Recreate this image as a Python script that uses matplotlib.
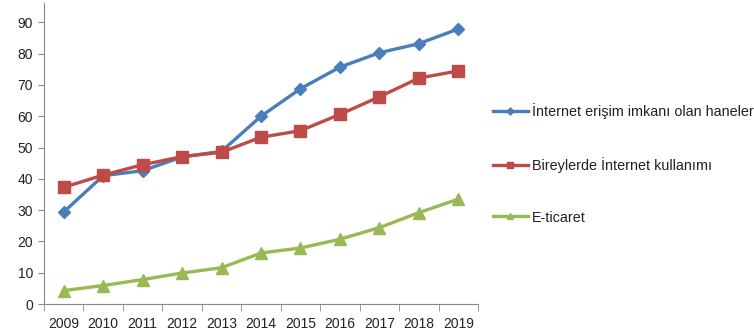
import numpy as np
import matplotlib.pyplot as plt

years = ["2009", "2010", "2011", "2012", "2013", "2014", "2015", "2016", "2017", "2018", "2019"]
hane = [29.4, 41.0, 42.6, 47.0, 48.8, 60.0, 68.8, 75.7, 80.3, 83.2, 87.9]
birey = [37.3, 41.2, 44.5, 47.1, 48.5, 53.3, 55.4, 60.6, 66.2, 72.2, 74.5]
eticaret = [4.3, 5.9, 7.8, 9.9, 11.6, 16.3, 17.9, 20.7, 24.4, 29.2, 33.5]
labels = ["İnternet erişim imkanı olan haneler",
          "Bireylerde İnternet kullanımı",
          "E-ticaret"]

plt.rcParams['font.family'] = ['Liberation Sans', 'DejaVu Sans']

fig = plt.figure(figsize=(7.54, 3.35), dpi=100)
ax = fig.add_axes([44/754, 1 - 304/335, (478 - 44)/754, 301/335])

x = np.arange(len(years))
ax.plot(x, hane, color='#4A7EBB', lw=2.4, marker='D', ms=6.5, label=labels[0])
ax.plot(x, birey, color='#BE4B48', lw=2.4, marker='s', ms=8, label=labels[1])
ax.plot(x, eticaret, color='#98B954', lw=2.4, marker='^', ms=8, label=labels[2])

ax.set_xlim(-0.5, len(years) - 0.5)
ax.set_ylim(0, 96.2)
ax.set_yticks(range(0, 100, 10))
ax.set_xticks(x)
ax.set_xticklabels(years)
ax.set_xticks(np.arange(-0.5, len(years), 1), minor=True)
ax.tick_params(axis='x', which='major', length=0, labelsize=10, pad=9, labelcolor='#222222')
ax.tick_params(axis='x', which='minor', length=5, color='#888888')
ax.tick_params(axis='y', length=4, labelsize=10, color='#888888', pad=4, labelcolor='#222222')
for s in ['top', 'right']:
    ax.spines[s].set_visible(False)
for s in ['left', 'bottom']:
    ax.spines[s].set_color('#888888')

ax.legend(loc='center left', bbox_to_anchor=(480/754, 1 - 164/335), bbox_transform=fig.transFigure,
          frameon=False, fontsize=10.4, labelspacing=2.6, handlelength=2.4,
          handletextpad=0.3, markerscale=0.55, labelcolor='#222222')

fig.savefig('out.png', dpi=100)
